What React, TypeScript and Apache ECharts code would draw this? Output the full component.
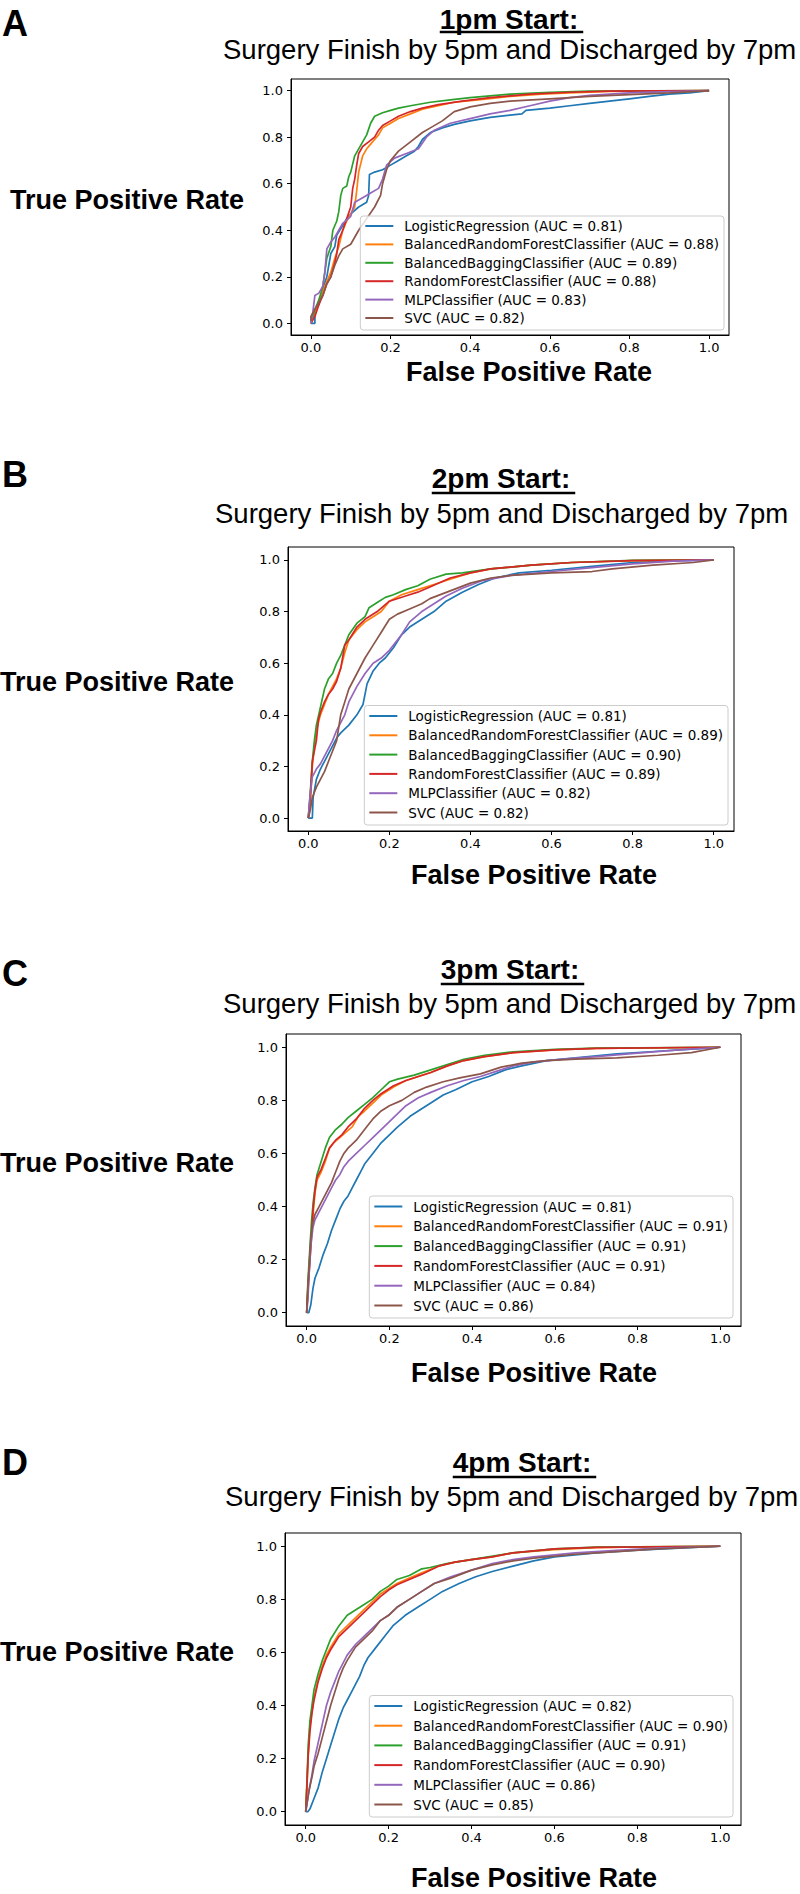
import React, { useEffect, useRef } from 'react';
import * as echarts from 'echarts';

// ---------- data ----------
const MODELS = ['LogisticRegression', 'BalancedRandomForestClassifier', 'BalancedBaggingClassifier', 'RandomForestClassifier', 'MLPClassifier', 'SVC'];
const COLORS = ['#1f77b4', '#ff7f0e', '#2ca02c', '#d62728', '#9467bd', '#8c564b'];
const PANEL_LETTERS = ['A', 'B', 'C', 'D'];
const START_TITLES = ['1pm Start:', '2pm Start:', '3pm Start:', '4pm Start:'];
const SUBTITLE = 'Surgery Finish by 5pm and Discharged by 7pm';
const X_LABEL = 'False Positive Rate';
const Y_LABEL = 'True Positive Rate';
const TICKS = [0, 0.2, 0.4, 0.6, 0.8, 1.0];

const AUC_A = ['0.81', '0.88', '0.89', '0.88', '0.83', '0.82'];
const AUC_B = ['0.81', '0.89', '0.90', '0.89', '0.82', '0.82'];
const AUC_C = ['0.81', '0.91', '0.91', '0.91', '0.84', '0.86'];
const AUC_D = ['0.82', '0.90', '0.91', '0.90', '0.86', '0.85'];

// Panel A (1pm)
const A_LR = [[0,0],[0.01,0],[0.01,0.06],[0.02,0.08],[0.03,0.15],[0.04,0.2],[0.045,0.25],[0.05,0.3],[0.06,0.33],[0.065,0.38],[0.08,0.42],[0.09,0.45],[0.1,0.47],[0.12,0.5],[0.14,0.52],[0.145,0.55],[0.147,0.64],[0.16,0.65],[0.18,0.66],[0.2,0.68],[0.22,0.7],[0.24,0.72],[0.26,0.74],[0.27,0.76],[0.28,0.79],[0.3,0.82],[0.33,0.84],[0.36,0.855],[0.4,0.87],[0.45,0.885],[0.5,0.895],[0.53,0.9],[0.54,0.915],[0.6,0.925],[0.65,0.935],[0.7,0.945],[0.75,0.955],[0.8,0.965],[0.85,0.975],[0.9,0.985],[0.95,0.99],[1,1]];
const A_BRF = [[0,0],[0.01,0.04],[0.02,0.1],[0.03,0.14],[0.04,0.18],[0.05,0.22],[0.06,0.28],[0.07,0.33],[0.08,0.4],[0.09,0.44],[0.1,0.47],[0.11,0.5],[0.115,0.57],[0.12,0.65],[0.13,0.72],[0.14,0.75],[0.15,0.77],[0.16,0.79],[0.17,0.81],[0.18,0.84],[0.2,0.86],[0.22,0.88],[0.25,0.9],[0.28,0.92],[0.32,0.935],[0.36,0.95],[0.42,0.96],[0.5,0.975],[0.58,0.985],[0.65,0.99],[0.75,0.997],[1,1]];
const A_BB = [[0,0],[0.01,0.06],[0.02,0.1],[0.03,0.16],[0.035,0.22],[0.04,0.28],[0.05,0.33],[0.055,0.4],[0.065,0.44],[0.07,0.48],[0.075,0.55],[0.08,0.58],[0.09,0.59],[0.095,0.63],[0.1,0.65],[0.11,0.72],[0.12,0.75],[0.13,0.78],[0.14,0.81],[0.15,0.86],[0.16,0.89],[0.18,0.905],[0.2,0.915],[0.22,0.925],[0.25,0.935],[0.3,0.95],[0.35,0.96],[0.4,0.97],[0.5,0.985],[0.6,0.993],[0.7,0.998],[1,1]];
const A_RF = [[0,0],[0.01,0.03],[0.02,0.08],[0.03,0.12],[0.04,0.17],[0.05,0.2],[0.06,0.26],[0.065,0.3],[0.07,0.36],[0.08,0.4],[0.09,0.45],[0.1,0.5],[0.105,0.58],[0.11,0.62],[0.115,0.68],[0.12,0.73],[0.13,0.76],[0.145,0.78],[0.16,0.8],[0.17,0.83],[0.18,0.85],[0.2,0.87],[0.22,0.89],[0.25,0.91],[0.28,0.925],[0.32,0.94],[0.38,0.955],[0.45,0.97],[0.55,0.985],[0.65,0.993],[0.75,0.998],[1,1]];
const A_MLP = [[0,0],[0.005,0.05],[0.01,0.12],[0.02,0.13],[0.03,0.16],[0.035,0.22],[0.04,0.32],[0.05,0.35],[0.06,0.37],[0.07,0.4],[0.08,0.43],[0.1,0.46],[0.11,0.52],[0.13,0.54],[0.15,0.56],[0.17,0.58],[0.18,0.62],[0.19,0.68],[0.21,0.71],[0.24,0.73],[0.27,0.75],[0.29,0.8],[0.31,0.83],[0.35,0.86],[0.4,0.88],[0.45,0.9],[0.5,0.915],[0.55,0.935],[0.6,0.955],[0.65,0.97],[0.7,0.98],[0.8,0.99],[0.9,0.996],[1,1]];
const A_SVC = [[0,0.01],[0,0.03],[0.01,0.06],[0.02,0.09],[0.03,0.12],[0.04,0.17],[0.05,0.2],[0.06,0.25],[0.07,0.29],[0.08,0.32],[0.1,0.34],[0.11,0.37],[0.12,0.4],[0.14,0.45],[0.16,0.5],[0.175,0.55],[0.18,0.6],[0.19,0.66],[0.2,0.7],[0.22,0.74],[0.25,0.78],[0.28,0.82],[0.3,0.84],[0.33,0.87],[0.36,0.91],[0.4,0.93],[0.45,0.945],[0.5,0.955],[0.6,0.965],[0.7,0.975],[0.8,0.983],[0.9,0.99],[1,1]];

// Panel B (2pm)
const B_LR = [[0,0],[0.01,0],[0.012,0.08],[0.02,0.15],[0.03,0.19],[0.04,0.22],[0.05,0.25],[0.06,0.28],[0.07,0.31],[0.08,0.33],[0.1,0.36],[0.12,0.4],[0.135,0.44],[0.145,0.52],[0.16,0.57],[0.175,0.6],[0.19,0.62],[0.21,0.66],[0.23,0.71],[0.25,0.74],[0.28,0.77],[0.31,0.8],[0.34,0.84],[0.38,0.875],[0.42,0.905],[0.46,0.93],[0.52,0.95],[0.6,0.96],[0.7,0.975],[0.8,0.99],[0.9,0.996],[1,1]];
const B_BRF = [[0,0],[0.005,0.05],[0.01,0.2],[0.015,0.28],[0.02,0.34],[0.03,0.4],[0.04,0.44],[0.05,0.48],[0.06,0.51],[0.07,0.54],[0.08,0.58],[0.09,0.64],[0.1,0.69],[0.12,0.73],[0.14,0.76],[0.16,0.78],[0.18,0.8],[0.2,0.84],[0.23,0.865],[0.27,0.885],[0.3,0.9],[0.35,0.925],[0.4,0.95],[0.45,0.965],[0.55,0.98],[0.65,0.99],[0.8,0.997],[1,1]];
const B_BB = [[0,0],[0.005,0.1],[0.01,0.22],[0.015,0.3],[0.02,0.36],[0.03,0.43],[0.04,0.5],[0.05,0.54],[0.06,0.56],[0.07,0.6],[0.08,0.63],[0.09,0.67],[0.1,0.71],[0.12,0.755],[0.14,0.78],[0.15,0.815],[0.17,0.835],[0.19,0.855],[0.21,0.865],[0.24,0.885],[0.27,0.9],[0.3,0.925],[0.34,0.945],[0.38,0.95],[0.45,0.965],[0.55,0.98],[0.65,0.99],[0.8,0.998],[1,1]];
const B_RF = [[0,0],[0.005,0.08],[0.01,0.22],[0.02,0.3],[0.025,0.38],[0.03,0.41],[0.04,0.45],[0.05,0.48],[0.06,0.5],[0.07,0.53],[0.08,0.58],[0.09,0.67],[0.1,0.69],[0.12,0.74],[0.14,0.77],[0.17,0.8],[0.2,0.84],[0.24,0.86],[0.27,0.875],[0.3,0.895],[0.35,0.93],[0.4,0.95],[0.45,0.965],[0.55,0.98],[0.65,0.99],[0.8,0.997],[1,1]];
const B_MLP = [[0,0],[0.005,0.1],[0.01,0.16],[0.02,0.19],[0.03,0.21],[0.04,0.24],[0.05,0.27],[0.06,0.3],[0.07,0.34],[0.08,0.37],[0.09,0.4],[0.1,0.45],[0.12,0.51],[0.14,0.56],[0.16,0.6],[0.18,0.62],[0.2,0.65],[0.23,0.71],[0.25,0.76],[0.28,0.8],[0.31,0.83],[0.34,0.86],[0.38,0.89],[0.43,0.92],[0.5,0.94],[0.6,0.955],[0.7,0.97],[0.8,0.985],[0.9,0.995],[1,1]];
const B_SVC = [[0,0],[0.005,0.03],[0.01,0.08],[0.02,0.12],[0.03,0.15],[0.04,0.18],[0.05,0.22],[0.06,0.26],[0.07,0.3],[0.075,0.35],[0.08,0.4],[0.09,0.45],[0.1,0.5],[0.12,0.56],[0.14,0.62],[0.16,0.67],[0.18,0.72],[0.2,0.77],[0.22,0.79],[0.25,0.81],[0.28,0.83],[0.3,0.85],[0.35,0.88],[0.4,0.91],[0.45,0.93],[0.5,0.94],[0.6,0.95],[0.7,0.955],[0.75,0.965],[0.85,0.98],[0.95,0.99],[1,1]];

// Panel C (3pm)
const C_LR = [[0,0],[0.005,0],[0.01,0.03],[0.015,0.09],[0.02,0.13],[0.03,0.17],[0.04,0.22],[0.05,0.26],[0.06,0.31],[0.07,0.35],[0.08,0.39],[0.09,0.42],[0.1,0.44],[0.11,0.47],[0.12,0.5],[0.13,0.53],[0.14,0.56],[0.16,0.6],[0.18,0.64],[0.2,0.67],[0.22,0.7],[0.25,0.74],[0.28,0.77],[0.3,0.79],[0.33,0.82],[0.36,0.84],[0.4,0.87],[0.44,0.89],[0.48,0.915],[0.52,0.93],[0.58,0.95],[0.65,0.96],[0.75,0.975],[0.85,0.985],[0.95,0.995],[1,1]];
const C_BRF = [[0,0],[0.003,0.1],[0.008,0.22],[0.012,0.3],[0.016,0.38],[0.02,0.45],[0.025,0.5],[0.035,0.53],[0.045,0.57],[0.055,0.62],[0.065,0.64],[0.08,0.66],[0.095,0.68],[0.11,0.7],[0.125,0.74],[0.14,0.76],[0.16,0.79],[0.18,0.82],[0.21,0.85],[0.24,0.875],[0.27,0.89],[0.3,0.905],[0.34,0.93],[0.38,0.95],[0.43,0.965],[0.5,0.98],[0.6,0.99],[0.7,0.996],[1,1]];
const C_BB = [[0,0],[0.003,0.12],[0.008,0.25],[0.012,0.35],[0.016,0.42],[0.02,0.47],[0.025,0.52],[0.035,0.57],[0.045,0.62],[0.055,0.66],[0.07,0.69],[0.085,0.71],[0.1,0.735],[0.12,0.76],[0.14,0.785],[0.16,0.81],[0.18,0.84],[0.2,0.87],[0.22,0.88],[0.26,0.895],[0.3,0.915],[0.34,0.935],[0.38,0.955],[0.43,0.97],[0.5,0.983],[0.6,0.992],[0.7,0.997],[1,1]];
const C_RF = [[0,0],[0.003,0.08],[0.008,0.2],[0.012,0.3],[0.016,0.4],[0.02,0.46],[0.025,0.51],[0.035,0.54],[0.045,0.58],[0.055,0.62],[0.07,0.65],[0.085,0.67],[0.1,0.7],[0.12,0.73],[0.14,0.77],[0.16,0.8],[0.18,0.825],[0.21,0.855],[0.24,0.875],[0.27,0.89],[0.3,0.905],[0.34,0.93],[0.38,0.95],[0.43,0.965],[0.5,0.98],[0.6,0.99],[0.7,0.996],[1,1]];
const C_MLP = [[0,0],[0.003,0.05],[0.006,0.15],[0.01,0.25],[0.015,0.32],[0.02,0.35],[0.03,0.38],[0.04,0.41],[0.05,0.44],[0.06,0.47],[0.07,0.5],[0.08,0.52],[0.09,0.55],[0.1,0.57],[0.12,0.6],[0.14,0.63],[0.16,0.66],[0.18,0.69],[0.2,0.72],[0.22,0.75],[0.24,0.78],[0.27,0.81],[0.3,0.83],[0.34,0.855],[0.38,0.875],[0.42,0.89],[0.46,0.91],[0.5,0.93],[0.55,0.945],[0.62,0.955],[0.7,0.965],[0.8,0.978],[0.9,0.99],[1,1]];
const C_SVC = [[0,0],[0.003,0.1],[0.007,0.2],[0.01,0.28],[0.015,0.34],[0.02,0.37],[0.03,0.4],[0.04,0.43],[0.05,0.46],[0.06,0.49],[0.07,0.53],[0.08,0.57],[0.09,0.6],[0.1,0.62],[0.12,0.65],[0.14,0.69],[0.16,0.73],[0.18,0.76],[0.2,0.78],[0.23,0.8],[0.26,0.83],[0.29,0.85],[0.33,0.87],[0.37,0.885],[0.42,0.9],[0.47,0.925],[0.52,0.94],[0.58,0.95],[0.65,0.955],[0.75,0.96],[0.85,0.97],[0.93,0.98],[1,1]];

// Panel D (4pm)
const D_LR = [[0,0],[0.005,0],[0.01,0.01],[0.02,0.05],[0.03,0.09],[0.04,0.15],[0.05,0.2],[0.06,0.25],[0.07,0.3],[0.08,0.35],[0.09,0.39],[0.1,0.42],[0.11,0.45],[0.12,0.48],[0.13,0.51],[0.14,0.55],[0.15,0.58],[0.17,0.62],[0.19,0.66],[0.21,0.7],[0.24,0.74],[0.27,0.77],[0.3,0.8],[0.33,0.83],[0.37,0.86],[0.41,0.885],[0.45,0.905],[0.5,0.925],[0.55,0.945],[0.6,0.96],[0.7,0.975],[0.8,0.985],[0.9,0.993],[1,1]];
const D_BRF = [[0,0],[0.003,0.1],[0.006,0.22],[0.01,0.32],[0.015,0.38],[0.02,0.43],[0.03,0.5],[0.04,0.55],[0.05,0.59],[0.06,0.62],[0.08,0.67],[0.1,0.7],[0.12,0.73],[0.14,0.76],[0.16,0.79],[0.18,0.82],[0.2,0.84],[0.22,0.86],[0.25,0.88],[0.28,0.9],[0.32,0.925],[0.36,0.94],[0.4,0.95],[0.45,0.96],[0.5,0.975],[0.6,0.987],[0.7,0.995],[0.8,0.998],[1,1]];
const D_BB = [[0,0],[0.003,0.12],[0.006,0.25],[0.01,0.34],[0.015,0.4],[0.02,0.46],[0.03,0.52],[0.04,0.57],[0.05,0.61],[0.06,0.65],[0.08,0.7],[0.1,0.74],[0.12,0.76],[0.14,0.78],[0.16,0.8],[0.18,0.83],[0.2,0.85],[0.22,0.875],[0.25,0.89],[0.28,0.915],[0.3,0.92],[0.34,0.935],[0.38,0.945],[0.44,0.96],[0.5,0.975],[0.6,0.99],[0.7,0.997],[1,1]];
const D_RF = [[0,0],[0.003,0.1],[0.006,0.21],[0.01,0.3],[0.015,0.37],[0.02,0.42],[0.03,0.49],[0.04,0.54],[0.05,0.58],[0.06,0.61],[0.08,0.66],[0.1,0.69],[0.12,0.72],[0.14,0.75],[0.16,0.78],[0.18,0.81],[0.2,0.835],[0.22,0.855],[0.25,0.875],[0.28,0.895],[0.32,0.925],[0.36,0.94],[0.4,0.95],[0.45,0.96],[0.5,0.975],[0.6,0.99],[0.7,0.996],[1,1]];
const D_MLP = [[0,0],[0.003,0.03],[0.008,0.08],[0.015,0.14],[0.02,0.19],[0.03,0.26],[0.04,0.33],[0.05,0.4],[0.06,0.45],[0.07,0.49],[0.08,0.53],[0.09,0.56],[0.1,0.59],[0.12,0.63],[0.14,0.66],[0.16,0.69],[0.18,0.72],[0.2,0.74],[0.22,0.77],[0.25,0.8],[0.28,0.83],[0.31,0.86],[0.35,0.885],[0.4,0.91],[0.45,0.935],[0.5,0.95],[0.55,0.96],[0.65,0.975],[0.75,0.985],[0.85,0.993],[1,1]];
const D_SVC = [[0,0],[0.003,0.03],[0.008,0.08],[0.015,0.13],[0.02,0.17],[0.03,0.22],[0.04,0.28],[0.05,0.34],[0.06,0.4],[0.07,0.45],[0.08,0.5],[0.09,0.54],[0.1,0.57],[0.12,0.62],[0.14,0.65],[0.16,0.68],[0.18,0.72],[0.2,0.74],[0.22,0.77],[0.25,0.8],[0.28,0.83],[0.31,0.86],[0.35,0.88],[0.4,0.91],[0.45,0.93],[0.5,0.945],[0.55,0.955],[0.65,0.97],[0.75,0.98],[0.85,0.99],[1,1]];

const PANEL_DATA = [
  [A_LR, A_BRF, A_BB, A_RF, A_MLP, A_SVC],
  [B_LR, B_BRF, B_BB, B_RF, B_MLP, B_SVC],
  [C_LR, C_BRF, C_BB, C_RF, C_MLP, C_SVC],
  [D_LR, D_BRF, D_BB, D_RF, D_MLP, D_SVC],
];
const PANEL_AUC = [AUC_A, AUC_B, AUC_C, AUC_D];

// ---------- layout (pixels) ----------
const W = 800;
const H = 1894;
const LAYOUT = [
  { l: 291, r: 729, t: 79, b: 335, legGap: 5, legLH: 13, legItemGap: 4.4, letterY: 23, titleX: 509, titleY: 19, ulY: 32, subX: 223, subY: 49, tprX: 10, tprY: 200, fprX: 529, fprY: 372 },
  { l: 288, r: 734, t: 547, b: 831, legGap: 6, legLH: 15, legItemGap: 4.3, letterY: 474, titleX: 501, titleY: 478, ulY: 493, subX: 215, subY: 513, tprX: 0, tprY: 682, fprX: 534, fprY: 875 },
  { l: 286, r: 741, t: 1034, b: 1326, legGap: 8, legLH: 15, legItemGap: 4.8, letterY: 973, titleX: 510, titleY: 969, ulY: 984, subX: 223, subY: 1003, tprX: 0, tprY: 1163, fprX: 534, fprY: 1373 },
  { l: 285, r: 741, t: 1533, b: 1825, legGap: 8, legLH: 15, legItemGap: 4.7, letterY: 1462, titleX: 522, titleY: 1462, ulY: 1477, subX: 225, subY: 1496, tprX: 0, tprY: 1652, fprX: 534, fprY: 1878 },
];

const SANS = '"Liberation Sans", Arial, Helvetica, sans-serif';
const MPL = '"DejaVu Sans", sans-serif';
const TITLE_FONT = `bold 28px ${SANS}`;
const SUB_FONT = `27.5px ${SANS}`;
const LABEL_FONT = `bold 27px ${SANS}`;
const LETTER_FONT = `bold 36px ${SANS}`;

function measure(text: string, font: string): number {
  const c = document.createElement('canvas');
  const ctx = c.getContext('2d');
  if (!ctx) return text.length * 14;
  ctx.font = font;
  return ctx.measureText(text).width;
}

function buildOption() {
  const grids: any[] = [];
  const xAxes: any[] = [];
  const yAxes: any[] = [];
  const series: any[] = [];
  const legends: any[] = [];
  const graphics: any[] = [];

  LAYOUT.forEach((L, i) => {
    grids.push({
      left: L.l, top: L.t, width: L.r - L.l, height: L.b - L.t,
      show: true, borderColor: '#000', borderWidth: 1, backgroundColor: '#fff',
    });
    const axisCommon = (margin: number) => ({
      min: -0.05, max: 1.05, type: 'value', gridIndex: i,
      axisLine: { show: true, onZero: false, lineStyle: { color: '#000', width: 1 } },
      axisTick: { show: true, customValues: TICKS, length: 4, lineStyle: { color: '#000', width: 1 } },
      axisLabel: { customValues: TICKS, formatter: (v: number) => v.toFixed(1), color: '#000', fontFamily: MPL, fontSize: 13, margin },
      splitLine: { show: false },
    });
    xAxes.push(axisCommon(6));
    yAxes.push(axisCommon(8));

    const names = MODELS.map((m, j) => `${m} (AUC = ${PANEL_AUC[i][j]})`);
    PANEL_DATA[i].forEach((d, j) => {
      series.push({
        type: 'line', name: names[j], xAxisIndex: i, yAxisIndex: i,
        data: d, symbol: 'none', showSymbol: false, clip: true,
        lineStyle: { width: 1.7, color: COLORS[j] }, itemStyle: { color: COLORS[j] },
        emphasis: { disabled: true },
      });
    });
    legends.push({
      orient: 'vertical', right: W - (L.r - L.legGap), bottom: H - (L.b - L.legGap),
      data: names, icon: 'rect', itemWidth: 28, itemHeight: 2, itemGap: L.legItemGap,
      padding: [3, 5, 5, 5], backgroundColor: 'rgba(255,255,255,0.8)',
      borderColor: '#cccccc', borderWidth: 1, borderRadius: 3, selectedMode: false,
      textStyle: { fontFamily: MPL, fontSize: 13.5, color: '#000', lineHeight: L.legLH, padding: [0, 0, 0, 6] },
    });

    graphics.push({ type: 'text', x: 2, y: L.letterY, style: { text: PANEL_LETTERS[i], font: LETTER_FONT, fill: '#000', textAlign: 'left', textVerticalAlign: 'middle' } });
    const tw = measure(START_TITLES[i], TITLE_FONT);
    graphics.push({ type: 'text', x: L.titleX, y: L.titleY, style: { text: START_TITLES[i], font: TITLE_FONT, fill: '#000', textAlign: 'center', textVerticalAlign: 'middle' } });
    graphics.push({ type: 'line', shape: { x1: L.titleX - tw / 2, y1: L.ulY, x2: L.titleX + tw / 2 + 5, y2: L.ulY }, style: { stroke: '#000', lineWidth: 2.5 } });
    graphics.push({ type: 'text', x: L.subX, y: L.subY, style: { text: SUBTITLE, font: SUB_FONT, fill: '#000', textAlign: 'left', textVerticalAlign: 'middle' } });
    graphics.push({ type: 'text', x: L.tprX, y: L.tprY, style: { text: Y_LABEL, font: LABEL_FONT, fill: '#000', textAlign: 'left', textVerticalAlign: 'middle' } });
    graphics.push({ type: 'text', x: L.fprX, y: L.fprY, style: { text: X_LABEL, font: LABEL_FONT, fill: '#000', textAlign: 'center', textVerticalAlign: 'middle' } });
  });

  return {
    animation: false,
    backgroundColor: '#fff',
    grid: grids, xAxis: xAxes, yAxis: yAxes, series, legend: legends,
    graphic: graphics,
  };
}

export default function App() {
  const ref = useRef<HTMLDivElement>(null);
  useEffect(() => {
    if (!ref.current) return;
    const chart = echarts.init(ref.current, undefined, { renderer: 'svg' });
    chart.setOption(buildOption() as any);
    return () => chart.dispose();
  }, []);
  return <div ref={ref} style={{ position: 'absolute', left: 0, top: 0, width: W, height: H, background: '#fff' }} />;
}
